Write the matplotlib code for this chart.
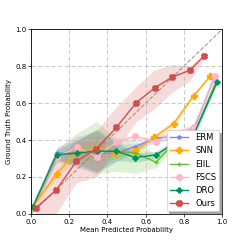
import numpy as np
import matplotlib
matplotlib.use("Agg")
import matplotlib.pyplot as plt

# bin centres (mean predicted probability) and fraction of positives per method
erm_x = [0.01, 0.134, 0.243, 0.344, 0.447, 0.546, 0.654, 0.747, 0.852, 0.958]
erm_y = [0.04, 0.33, 0.33, 0.33, 0.33, 0.365, 0.41, 0.42, 0.46, 0.735]
erm_lo = [0.03, 0.30, 0.25, 0.22, 0.28, 0.34, 0.39, 0.40, 0.44, 0.72]
erm_hi = [0.05, 0.36, 0.42, 0.45, 0.38, 0.38, 0.43, 0.44, 0.48, 0.75]

snn_x = [0.01, 0.134, 0.243, 0.344, 0.447, 0.546, 0.644, 0.747, 0.852, 0.937]
snn_y = [0.04, 0.218, 0.338, 0.359, 0.327, 0.341, 0.415, 0.489, 0.641, 0.745]
snn_lo = [0.03, 0.20, 0.30, 0.28, 0.30, 0.32, 0.40, 0.47, 0.63, 0.74]
snn_hi = [0.05, 0.24, 0.38, 0.42, 0.36, 0.36, 0.43, 0.51, 0.65, 0.75]

eiil_x = [0.01, 0.134, 0.243, 0.344, 0.447, 0.546, 0.654, 0.747, 0.852, 0.97]
eiil_y = [0.04, 0.32, 0.33, 0.34, 0.34, 0.33, 0.28, 0.38, 0.43, 0.72]
eiil_lo = [0.03, 0.28, 0.26, 0.22, 0.23, 0.22, 0.25, 0.36, 0.41, 0.71]
eiil_hi = [0.05, 0.35, 0.44, 0.50, 0.40, 0.40, 0.32, 0.40, 0.45, 0.73]

fscs_x = [0.01, 0.134, 0.243, 0.344, 0.447, 0.546, 0.654, 0.747, 0.852, 0.965]
fscs_y = [0.04, 0.31, 0.36, 0.31, 0.39, 0.42, 0.39, 0.44, 0.47, 0.745]
fscs_lo = [0.03, 0.28, 0.30, 0.20, 0.37, 0.40, 0.37, 0.42, 0.45, 0.74]
fscs_hi = [0.05, 0.34, 0.42, 0.42, 0.41, 0.43, 0.41, 0.46, 0.49, 0.75]

dro_x = [0.01, 0.134, 0.243, 0.344, 0.447, 0.546, 0.654, 0.747, 0.852, 0.975]
dro_y = [0.04, 0.32, 0.33, 0.34, 0.34, 0.305, 0.32, 0.38, 0.43, 0.715]
dro_lo = [0.03, 0.29, 0.27, 0.23, 0.29, 0.28, 0.30, 0.36, 0.41, 0.70]
dro_hi = [0.05, 0.35, 0.40, 0.46, 0.39, 0.33, 0.34, 0.40, 0.45, 0.73]

ours_x = [0.025, 0.131, 0.237, 0.342, 0.447, 0.551, 0.647, 0.740, 0.831, 0.904]
ours_y = [0.033, 0.128, 0.285, 0.352, 0.469, 0.603, 0.682, 0.742, 0.778, 0.854]
ours_lo = [0.0, 0.0, 0.17, 0.20, 0.35, 0.50, 0.57, 0.66, 0.72, 0.84]
ours_hi = [0.10, 0.30, 0.40, 0.45, 0.58, 0.69, 0.78, 0.81, 0.80, 0.86]

methods = [
    ("ERM", erm_x, erm_y, erm_lo, erm_hi, "#8080ff", "*", 3),
    ("SNN", snn_x, snn_y, snn_lo, snn_hi, "#ffaa00", "P", 4.5),
    ("EIIL", eiil_x, eiil_y, eiil_lo, eiil_hi, "#66bb33", "+", 3),
    ("FSCS", fscs_x, fscs_y, fscs_lo, fscs_hi, "#ffb6c8", "o", 4),
    ("DRO", dro_x, dro_y, dro_lo, dro_hi, "#00915a", "P", 3.5),
    ("Ours", ours_x, ours_y, ours_lo, ours_hi, "#d24c4c", "X", 4),
]

plt.rcParams["font.size"] = 5
fig = plt.figure(figsize=(2.45, 2.45), dpi=100)
ax = fig.add_axes([0.127, 0.127, 0.779, 0.753])

ax.plot([0, 1], [0, 1], linestyle="--", color="#a89f80", linewidth=0.8, zorder=1)

for name, x, y, lo, hi, c, m, ms in methods:
    ax.fill_between(x, lo, hi, color=c, alpha=0.2, linewidth=0)
    ax.plot(x, y, color=c, marker=m, markersize=ms, linewidth=1.0, label=name)

ax.set_xlim(0, 1)
ax.set_ylim(0, 1)
ax.set_xticks([0, 0.2, 0.4, 0.6, 0.8, 1.0])
ax.set_yticks([0, 0.2, 0.4, 0.6, 0.8, 1.0])
ax.tick_params(labelsize=5, length=2, width=0.5, pad=1.5)
for s in ax.spines.values():
    s.set_linewidth(0.6)
ax.grid(True, linestyle=(0, (5, 3)), color="#c0c0c0", linewidth=0.6)
ax.set_xlabel("Mean Predicted Probability", fontsize=5, labelpad=1.5)
ax.set_ylabel("Ground Truth Probability", fontsize=5, labelpad=2)

leg = ax.legend(loc="lower right", fontsize=6, shadow=True, fancybox=False,
                framealpha=1, edgecolor="#cccccc", handlelength=2.2,
                borderpad=0.4, labelspacing=0.5, borderaxespad=0.3)
leg.get_frame().set_linewidth(0.5)

fig.savefig("out.png", dpi=100)
